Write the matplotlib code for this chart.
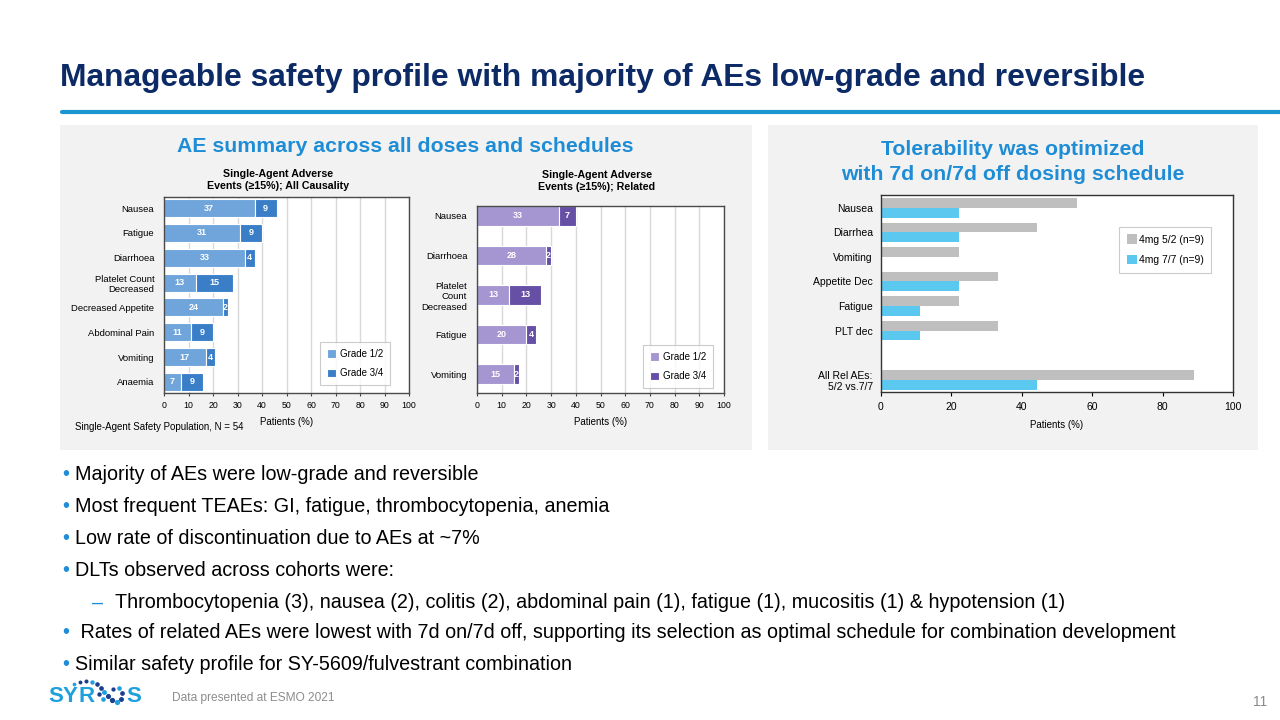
import matplotlib
matplotlib.use("Agg")
import matplotlib.pyplot as plt
from matplotlib.patches import Rectangle
from matplotlib.lines import Line2D
import numpy as np

plt.rcParams['font.family'] = ['Liberation Sans', 'DejaVu Sans']

# ---------------- data ----------------
c1_cats = ["Nausea", "Fatigue", "Diarrhoea", "Platelet Count\nDecreased",
           "Decreased Appetite", "Abdominal Pain", "Vomiting", "Anaemia"]
c1_g12 = [37, 31, 33, 13, 24, 11, 17, 7]
c1_g34 = [9, 9, 4, 15, 2, 9, 4, 9]

c2_cats = ["Nausea", "Diarrhoea", "Platelet\nCount\nDecreased", "Fatigue", "Vomiting"]
c2_g12 = [33, 28, 13, 20, 15]
c2_g34 = [7, 2, 13, 4, 2]

c3_cats = ["Nausea", "Diarrhea", "Vomiting", "Appetite Dec", "Fatigue", "PLT dec",
           "All Rel AEs:\n5/2 vs.7/7"]
c3_52 = [55.6, 44.4, 22.2, 33.3, 22.2, 33.3, 88.9]
c3_77 = [22.2, 22.2, 0, 22.2, 11.1, 11.1, 44.4]
c3_series = ["4mg 5/2 (n=9)", "4mg 7/7 (n=9)"]

grade_labels = ["Grade 1/2", "Grade 3/4"]
xticks_pct = list(range(0, 101, 10))
xticks_pct3 = list(range(0, 101, 20))

bullets = [
    "Majority of AEs were low-grade and reversible",
    "Most frequent TEAEs: GI, fatigue, thrombocytopenia, anemia",
    "Low rate of discontinuation due to AEs at ~7%",
    "DLTs observed across cohorts were:",
]
sub_bullet = ("Thrombocytopenia (3), nausea (2), colitis (2), abdominal pain (1), "
              "fatigue (1), mucositis (1) & hypotension (1)")
bullets2 = [
    " Rates of related AEs were lowest with 7d on/7d off, supporting its selection as optimal schedule for combination development",
    "Similar safety profile for SY-5609/fulvestrant combination",
]

# ---------------- helpers ----------------
W, H = 1280, 720
fig = plt.figure(figsize=(12.8, 7.2), dpi=100)
fig.patch.set_facecolor("white")


def rect(l, t, r, b):
    return [l / W, 1 - b / H, (r - l) / W, (b - t) / H]


def ftext(x, y, s, **kw):
    return fig.text(x / W, 1 - y / H, s, **kw)


NAVY = "#0c2a66"
BLUE = "#1f8dd6"

# title
ftext(60, 78, "Manageable safety profile with majority of AEs low-grade and reversible",
      fontsize=22.9, fontweight="bold", color=NAVY, va="center", ha="left")
fig.add_artist(Line2D([62 / W, 1.01], [1 - 112 / H] * 2, color="#1b95d0", lw=3.0,
                      solid_capstyle="round"))

# grey panels
fig.add_artist(Rectangle((60 / W, 1 - 450 / H), 692 / W, 325 / H,
                         facecolor="#f2f2f2", edgecolor="none", zorder=0))
fig.add_artist(Rectangle((768 / W, 1 - 450 / H), 490 / W, 325 / H,
                         facecolor="#f2f2f2", edgecolor="none", zorder=0))

ftext(405, 147, "AE summary across all doses and schedules", fontsize=15.3,
      fontweight="bold", color=BLUE, ha="center", va="center")
ftext(1013, 162, "Tolerability was optimized\nwith 7d on/7d off dosing schedule", fontsize=15.3,
      fontweight="bold", color=BLUE, ha="center", va="center", linespacing=1.35)


def stacked(ax, cats, g12, g34, c_light, c_dark, height, ylim, title, title_xy, leg_xy):
    y = np.arange(len(cats))
    ax.set_facecolor("white")
    ax.barh(y, g12, height=height, color=c_light, edgecolor="white", lw=0.8,
            label=grade_labels[0], zorder=2)
    ax.barh(y, g34, left=g12, height=height, color=c_dark, edgecolor="white", lw=0.8,
            label=grade_labels[1], zorder=2)
    for i in range(len(cats)):
        ax.text(g12[i] / 2, y[i], str(g12[i]), color="white", fontsize=6.5,
                fontweight="bold", ha="center", va="center", zorder=4)
        ax.text(g12[i] + g34[i] / 2, y[i], str(g34[i]), color="white", fontsize=6.5,
                fontweight="bold", ha="center", va="center", zorder=4)
    ax.set_xlim(0, 100)
    ax.set_ylim(*ylim)
    ax.set_yticks(y)
    ax.set_yticklabels(cats, fontsize=6.8, linespacing=1.2)
    ax.set_xticks(xticks_pct)
    ax.set_xticklabels([str(v) for v in xticks_pct], fontsize=6.3)
    ax.tick_params(axis="y", length=0, pad=7)
    ax.tick_params(axis="x", length=2.5, color="#444444", pad=3)
    ax.grid(axis="x", color="#d9d9d9", lw=1, zorder=0)
    ax.set_axisbelow(True)
    for s in ax.spines.values():
        s.set_color("#4a4a4a")
        s.set_linewidth(1)
        s.set_zorder(3)
    ax.set_xlabel("Patients (%)", fontsize=7, labelpad=5)
    ftext(title_xy[0], title_xy[1], title, fontsize=7.7, fontweight="bold",
          ha="center", va="center", linespacing=1.15)
    leg = ax.legend(loc="upper left", bbox_to_anchor=(leg_xy[0] / W, 1 - leg_xy[1] / H),
                    bbox_transform=fig.transFigure, fontsize=7, frameon=True,
                    fancybox=False, edgecolor="#bfbfbf", handlelength=1.0,
                    handleheight=1.0, borderpad=0.7, labelspacing=1.0, handletextpad=0.4)
    leg.get_frame().set_linewidth(0.8)


ax1 = fig.add_axes(rect(164, 197, 409, 393))
stacked(ax1, c1_cats, c1_g12, c1_g34, "#6fa5da", "#3a7ec8", 0.73, (7.45, -0.45),
        "Single-Agent Adverse\nEvents (\u226515%); All Causality", (278, 180), (315, 337))
ftext(75, 427, "Single-Agent Safety Population, N = 54", fontsize=7, ha="left", va="center")

ax2 = fig.add_axes(rect(477, 206, 724, 393))
stacked(ax2, c2_cats, c2_g12, c2_g34, "#a596d2", "#6650a6", 0.49, (4.48, -0.25),
        "Single-Agent Adverse\nEvents (\u226515%); Related", (597, 181), (638, 340))

# chart 3
ax3 = fig.add_axes(rect(881, 195, 1233, 392))
pos3 = np.array([0, 1, 2, 3, 4, 5, 7], dtype=float)
bh = 0.4
ax3.barh(pos3 - bh / 2, c3_52, height=bh, color="#c0bfc0", label=c3_series[0], zorder=2)
ax3.barh(pos3 + bh / 2, c3_77, height=bh, color="#5bc8f0", label=c3_series[1], zorder=2)
ax3.set_xlim(0, 100)
ax3.set_ylim(7.5, -0.52)
ax3.set_yticks(pos3)
ax3.set_yticklabels(c3_cats, fontsize=7.5, linespacing=1.15)
ax3.set_xticks(xticks_pct3)
ax3.set_xticklabels([str(v) for v in xticks_pct3], fontsize=7.5)
ax3.tick_params(axis="y", length=0, pad=6)
ax3.tick_params(axis="x", length=3, pad=4)
for s in ax3.spines.values():
    s.set_color("#333333")
    s.set_linewidth(1)
    s.set_zorder(3)
ax3.set_xlabel("Patients (%)", fontsize=7, labelpad=6)
leg3 = ax3.legend(loc="upper left", bbox_to_anchor=(1114 / W, 1 - 222 / H),
                  bbox_transform=fig.transFigure, fontsize=7.5, frameon=True,
                  fancybox=False, edgecolor="#bfbfbf", handlelength=1.0,
                  handleheight=1.0, borderpad=0.7, labelspacing=1.0, handletextpad=0.2)
leg3.get_frame().set_linewidth(0.8)

# bullets
BFS = 14.2
ys = [475, 507, 539, 571]
for yy, s in zip(ys, bullets):
    ftext(62, yy, "\u2022", fontsize=BFS, color=BLUE, va="center", ha="left")
    ftext(75, yy, s, fontsize=BFS, color="black", va="center", ha="left")
ftext(92, 603, "\u2013", fontsize=BFS, color=BLUE, va="center", ha="left")
ftext(115, 603, sub_bullet, fontsize=BFS, color="black", va="center", ha="left")
for yy, s in zip([633, 665], bullets2):
    ftext(62, yy, "\u2022", fontsize=BFS, color=BLUE, va="center", ha="left")
    ftext(75, yy, s, fontsize=BFS, color="black", va="center", ha="left")

# footer logo (decorative)
LOGO = "#1ea0dd"
for lx, ch in ((48, "S"), (63, "Y"), (79, "R"), (126, "S")):
    ftext(lx, 696, ch, fontsize=16, fontweight="bold", color=LOGO, va="center", ha="left")
logo_dots = [(74, 684, 1.4), (80, 682, 1.5), (86, 681, 1.6), (92, 682, 1.8), (97, 684, 1.9),
             (101, 688, 2.0), (104, 692, 2.1), (108, 696, 2.2), (112, 700, 2.3),
             (117, 702, 2.3), (121, 699, 2.1), (122, 693, 2.0), (119, 688, 1.9),
             (113, 689, 1.7), (99, 694, 1.8), (103, 699, 1.9)]
for k, (dx, dy, ms) in enumerate(logo_dots):
    fig.add_artist(Line2D([dx / W], [1 - dy / H], marker="o", markersize=ms * 1.2,
                          color="#1b3f8f" if k % 3 else LOGO, lw=0))
ftext(172, 698, "Data presented at ESMO 2021", fontsize=8.6, color="#8c8c8c",
      va="center", ha="left")
ftext(1267, 702, "11", fontsize=10, color="#8c8c8c", va="center", ha="right")

fig.savefig("out.png", dpi=100)
